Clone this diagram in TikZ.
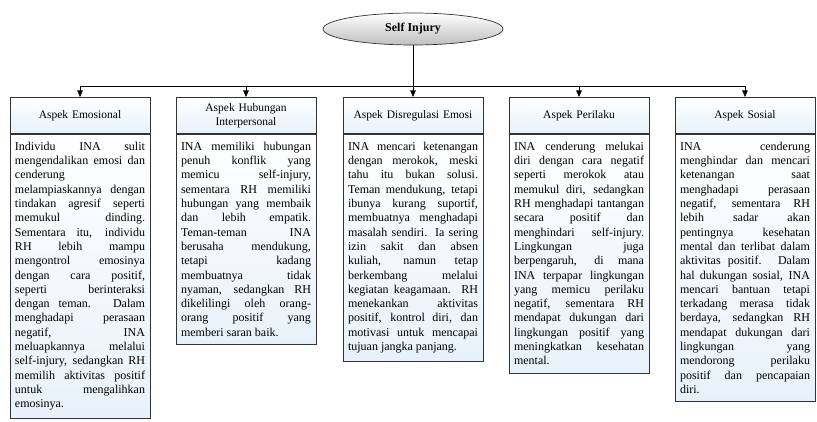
\documentclass[tikz,border=0pt]{standalone}
\usepackage{fontspec}
\setmainfont{Liberation Serif}
\usetikzlibrary{arrows.meta,positioning,shapes.geometric}
\tolerance=10000
\hbadness=10000
\definecolor{biruMuda}{HTML}{E8F1FA}

\tikzset{
  aspek/.style={draw=black!80,rectangle,text width=130pt,inner xsep=5pt,align=center,
    minimum height=36pt,top color=white,bottom color=biruMuda,font=\fontsize{11.5}{14}\selectfont},
  isi/.style={draw=black!80,rectangle,text width=130pt,inner xsep=5pt,inner ysep=8pt,align=justify,
    top color=white,bottom color=biruMuda,font=\fontsize{12}{14.3}\selectfont},
}

\begin{document}
\begin{tikzpicture}[x=1pt,y=-1pt,>={Triangle[length=6.5pt,width=5.5pt]},line width=0.7pt]
\useasboundingbox (0,0) rectangle (817,422);
\node[ellipse,draw=black!80,minimum width=180pt,minimum height=32pt,top color=white,bottom color=black!25,
  font=\bfseries\fontsize{12}{14}\selectfont] (root) at (413,29) {Self Injury};

\foreach \nama/\x/\judul in {emo/80/Aspek Emosional,hub/246/{Aspek Hubungan\\Interpersonal},
  dis/413/Aspek Disregulasi Emosi,per/579/Aspek Perilaku,sos/745/Aspek Sosial}
  \node[aspek,anchor=north] (\nama) at (\x,97) {\judul};

\node[isi,below=0pt of emo] (emoIsi) {Individu INA sulit\linebreak mengendalikan emosi dan\linebreak cenderung\linebreak melampiaskannya dengan\linebreak tindakan agresif seperti\linebreak memukul dinding.\linebreak Sementara itu, individu\linebreak RH lebih mampu\linebreak mengontrol emosinya\linebreak dengan cara positif,\linebreak seperti berinteraksi\linebreak dengan teman. Dalam\linebreak menghadapi perasaan\linebreak negatif, INA\linebreak meluapkannya melalui\linebreak self-injury, sedangkan RH\linebreak memilih aktivitas positif\linebreak untuk mengalihkan\linebreak emosinya.};
\node[isi,below=0pt of hub] (hubIsi) {INA memiliki hubungan\linebreak penuh konflik yang\linebreak memicu self-injury,\linebreak sementara RH memiliki\linebreak hubungan yang membaik\linebreak dan lebih empatik.\linebreak Teman-teman INA\linebreak berusaha mendukung,\linebreak tetapi kadang\linebreak membuatnya tidak\linebreak nyaman, sedangkan RH\linebreak dikelilingi oleh orang-\linebreak orang positif yang\linebreak memberi saran baik.};
\node[isi,below=0pt of dis] (disIsi) {INA mencari ketenangan\linebreak dengan merokok, meski\linebreak tahu itu bukan solusi.\linebreak Teman mendukung, tetapi\linebreak ibunya kurang suportif,\linebreak membuatnya menghadapi\linebreak masalah sendiri. Ia sering\linebreak izin sakit dan absen\linebreak kuliah, namun tetap\linebreak berkembang melalui\linebreak kegiatan keagamaan. RH\linebreak menekankan aktivitas\linebreak positif, kontrol diri, dan\linebreak motivasi untuk mencapai\linebreak tujuan jangka panjang.};
\node[isi,below=0pt of per] (perIsi) {INA cenderung melukai\linebreak diri dengan cara negatif\linebreak seperti merokok atau\linebreak memukul diri, sedangkan\linebreak RH menghadapi tantangan\linebreak secara positif dan\linebreak menghindari self-injury.\linebreak Lingkungan juga\linebreak berpengaruh, di mana\linebreak INA terpapar lingkungan\linebreak yang memicu perilaku\linebreak negatif, sementara RH\linebreak mendapat dukungan dari\linebreak lingkungan positif yang\linebreak meningkatkan kesehatan\linebreak mental.};
\node[isi,below=0pt of sos] (sosIsi) {INA cenderung\linebreak menghindar dan mencari\linebreak ketenangan saat\linebreak menghadapi perasaan\linebreak negatif, sementara RH\linebreak lebih sadar akan\linebreak pentingnya kesehatan\linebreak mental dan terlibat dalam\linebreak aktivitas positif. Dalam\linebreak hal dukungan sosial, INA\linebreak mencari bantuan tetapi\linebreak terkadang merasa tidak\linebreak berdaya, sedangkan RH\linebreak mendapat dukungan dari\linebreak lingkungan yang\linebreak mendorong perilaku\linebreak positif dan pencapaian\linebreak diri.};

% garis penghubung
\coordinate (bagi) at (413,86);
\draw (root.south) -- (bagi);
\draw (emo.north |- bagi) -- (sos.north |- bagi);
\foreach \nama in {emo,hub,per,sos} \draw[->] (\nama.north |- bagi) -- (\nama.north);
\draw[->] (bagi) -- (dis.north);
\end{tikzpicture}
\end{document}
